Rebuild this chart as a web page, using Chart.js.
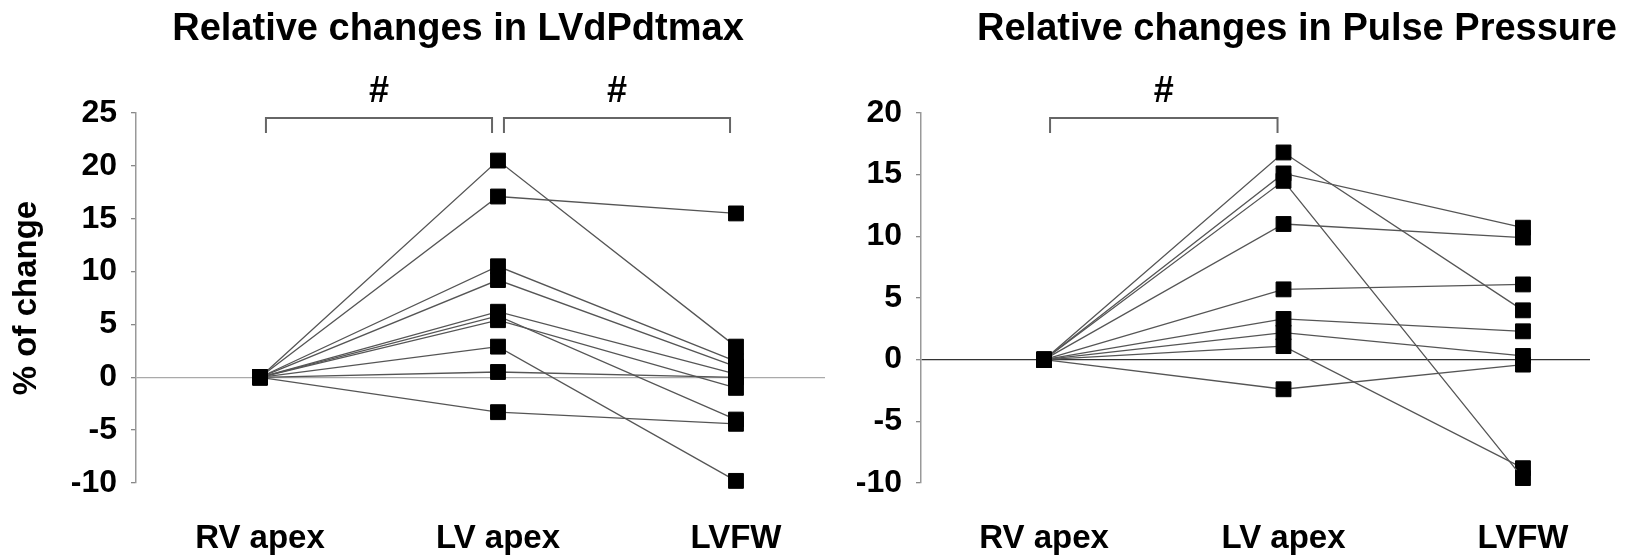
<!DOCTYPE html>
<html>
<head>
<meta charset="utf-8">
<script src="https://cdn.jsdelivr.net/npm/chart.js@4/dist/chart.umd.min.js"></script>
<style>
  body { margin: 0; background: #fff; overflow: hidden; }
  #wrap { position: relative; width: 1642px; height: 557px; }
  canvas { position: absolute; top: 0; }
</style>
</head>
<body>
<div id="wrap">
  <canvas id="dpdt" width="840" height="557" style="left:0"></canvas>
  <canvas id="pulse" width="802" height="557" style="left:840px"></canvas>
</div>
<script>
// pacing sites (x categories)
const sites = ["RV apex", "LV apex", "LVFW"];

// LVdPdtmax, % change per animal at each site
const dpdtRV   = [0, 0, 0, 0, 0, 0, 0, 0, 0, 0];
const dpdtLV   = [20.5, 17.1, 10.5, 9.2, 6.2, 5.8, 5.4, 2.9, 0.5, -3.3];
const dpdtLVFW = [2.9, 15.5, 1.5, 1.0, 0.3, -4.0, -1.0, -9.8, 0.0, -4.4];

// Pulse pressure, % change per animal at each site
const pulseRV   = [0, 0, 0, 0, 0, 0, 0, 0, 0];
const pulseLV   = [16.8, 15.1, 14.5, 11.0, 5.7, 3.3, 2.2, 1.1, -2.4];
const pulseLVFW = [4.0, 10.7, -9.6, 9.9, 6.1, 2.3, 0.3, -8.8, -0.4];

const dpdtTicks  = [-10, -5, 0, 5, 10, 15, 20, 25];
const pulseTicks = [-10, -5, 0, 5, 10, 15, 20];

// significance brackets (pairs of site indexes)
const dpdtSig  = [[0, 1], [1, 2]];
const pulseSig = [[0, 1]];

const FONT = '"Liberation Sans", Arial, Helvetica, sans-serif';

const decor = {
    id: "decor",
    afterDraw(chart, args, opts) {
        const { ctx, chartArea, scales: { x } } = chart;
        ctx.save();
        ctx.fillStyle = "#000";
        ctx.textAlign = "center";
        ctx.textBaseline = "alphabetic";
        ctx.font = `bold 38px ${FONT}`;
        ctx.fillText(opts.title, opts.titleX, 40);

        const yTop = chartArea.top + 5;
        ctx.strokeStyle = "#666";
        ctx.lineWidth = 2;
        ctx.font = `bold 36px ${FONT}`;
        for (const [a, b] of opts.brackets) {
            const x1 = x.getPixelForValue(a + 0.025);
            const x2 = x.getPixelForValue(b - 0.025);
            ctx.beginPath();
            ctx.moveTo(x1, yTop + 15);
            ctx.lineTo(x1, yTop);
            ctx.lineTo(x2, yTop);
            ctx.lineTo(x2, yTop + 15);
            ctx.stroke();
            ctx.fillText("#", (x1 + x2) / 2, 102);
        }
        ctx.restore();
    }
};

function buildDatasets(rv, lv, lvfw) {
    return rv.map((v, i) => ({
        data: [{ x: 0, y: rv[i] }, { x: 1, y: lv[i] }, { x: 2, y: lvfw[i] }],
        borderColor: "#555",
        borderWidth: 1.3,
        pointStyle: "rect",
        pointRadius: 10.5,
        pointBackgroundColor: "#000",
        pointBorderColor: "#000",
        pointBorderWidth: 1,
        showLine: true,
        fill: false,
        clip: false
    }));
}

function makeChart(id, o) {
    return new Chart(document.getElementById(id).getContext("2d"), {
        type: "scatter",
        data: { datasets: buildDatasets(o.rv, o.lv, o.lvfw) },
        plugins: [decor],
        options: {
            responsive: false,
            animation: false,
            events: [],
            layout: { padding: { top: 113, bottom: 0, left: 0, right: o.padRight } },
            plugins: {
                legend: { display: false },
                tooltip: { enabled: false },
                decor: { title: o.title, titleX: o.titleX, brackets: o.brackets }
            },
            scales: {
                x: {
                    type: "linear",
                    min: o.xMin,
                    max: o.xMax,
                    afterBuildTicks: s => { s.ticks = sites.map((c, i) => ({ value: i })); },
                    afterFit: s => { s.height = 74; },
                    grid: { display: false, drawTicks: false },
                    border: { display: false },
                    ticks: {
                        autoSkip: false,
                        maxRotation: 0,
                        padding: 36,
                        color: "#000",
                        font: { family: FONT, size: 33, weight: "bold" },
                        callback: v => sites[v]
                    }
                },
                y: {
                    min: o.ticks[0],
                    max: o.ticks[o.ticks.length - 1],
                    afterBuildTicks: s => { s.ticks = o.ticks.map(v => ({ value: v })); },
                    afterFit: s => { s.width = o.axisWidth; },
                    border: { color: "#999", width: 1.5 },
                    grid: {
                        drawTicks: true,
                        tickLength: 5,
                        tickColor: "#888",
                        lineWidth: 1.3,
                        color: c => c.tick && c.tick.value === 0 ? o.zeroColor : "rgba(0,0,0,0)"
                    },
                    ticks: {
                        padding: 14,
                        color: "#000",
                        font: { family: FONT, size: 32, weight: "bold" }
                    },
                    title: {
                        display: o.yTitle !== "",
                        text: o.yTitle,
                        color: "#000",
                        padding: { top: 7, bottom: 0 },
                        font: { family: FONT, size: 33, weight: "bold" }
                    }
                }
            }
        }
    });
}

makeChart("dpdt", {
    rv: dpdtRV, lv: dpdtLV, lvfw: dpdtLVFW,
    ticks: dpdtTicks,
    title: "Relative changes in LVdPdtmax",
    titleX: 458,
    brackets: dpdtSig,
    yTitle: "% of change",
    axisWidth: 136,
    padRight: 15,
    xMin: -0.521, xMax: 2.374,
    zeroColor: "#aaa"
});

makeChart("pulse", {
    rv: pulseRV, lv: pulseLV, lvfw: pulseLVFW,
    ticks: pulseTicks,
    title: "Relative changes in Pulse Pressure",
    titleX: 457,
    brackets: pulseSig,
    yTitle: "",
    axisWidth: 81,
    padRight: 52,
    xMin: -0.514, xMax: 2.28,
    zeroColor: "#333"
});
</script>
</body>
</html>
